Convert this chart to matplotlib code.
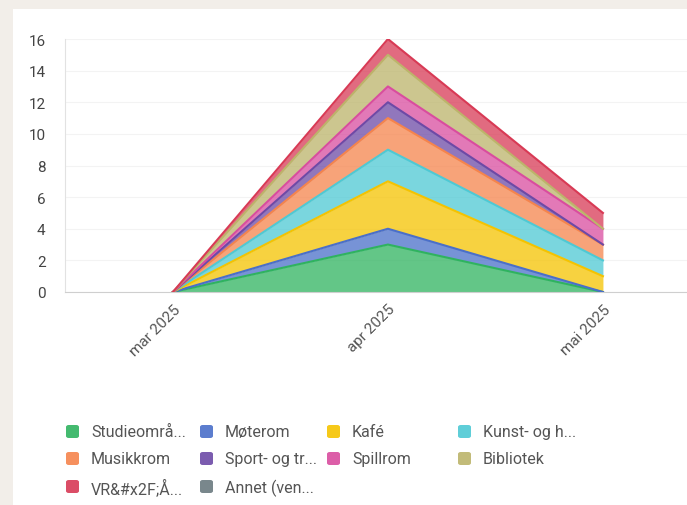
import numpy as np
import matplotlib.pyplot as plt
from matplotlib.patches import FancyBboxPatch, Rectangle

plt.rcParams['font.family'] = ['Roboto', 'DejaVu Sans']

months = ['mar 2025', 'apr 2025', 'mai 2025']
labels = ['Studieområ...', 'Møterom', 'Kafé', 'Kunst- og h...',
          'Musikkrom', 'Sport- og tr...', 'Spillrom', 'Bibliotek',
          'VR&#x2F;Å...', 'Annet (ven...']
colors = ['#2fb35f', '#4a6fc9', '#f5c300', '#4ec9d4',
          '#f5844c', '#6d4aa6', '#d94c9f', '#bcb46a',
          '#d83a55', '#6b7a80']
# antall per kategori og måned (mar, apr, mai)
studie = [0, 3, 0]
moterom = [0, 1, 0]
kafe = [0, 3, 1]
kunst = [0, 2, 1]
musikk = [0, 2, 1]
sport = [0, 1, 0]
spill = [0, 1, 1]
bibliotek = [0, 2, 0]
vr = [0, 1, 1]
annet = [0, 0, 0]
series = [studie, moterom, kafe, kunst, musikk, sport, spill, bibliotek, vr, annet]

fig = plt.figure(figsize=(6.87, 5.06), dpi=100)
fig.patch.set_facecolor('#f2eee9')
# hvitt kort bak alt
fig.patches.append(Rectangle((13 / 687, 0), 1, 1 - 10 / 506, transform=fig.transFigure,
                             facecolor='white', edgecolor='none', zorder=-5))

ax = fig.add_axes([65 / 687, 1 - 293 / 506, 1 - 65 / 687, 253 / 506])
ax.set_zorder(2)
ax.set_facecolor('none')

x = np.arange(len(months))
data = np.array(series, dtype=float)
tops = np.cumsum(data, axis=0)
bottoms = tops - data
for i in range(len(series)):
    if data[i].sum() == 0:
        continue
    ax.fill_between(x, bottoms[i], tops[i], color=colors[i], alpha=0.75, linewidth=0, zorder=2)
    ax.plot(x, tops[i], color=colors[i], linewidth=1.5, zorder=3)

ax.set_xlim(-0.502, 2.391)
ax.set_ylim(0, 16)
ax.set_yticks(range(0, 17, 2))
ax.set_xticks(x)
ax.set_xticklabels(months, rotation=45, ha='right', rotation_mode='anchor')
ax.tick_params(axis='both', length=0, labelsize=11, colors='#444444')
ax.tick_params(axis='x', pad=7, colors='#555555')
ax.tick_params(axis='y', pad=14)
ax.grid(axis='y', color='#f3f3f3', linewidth=0.8, zorder=0)
for s in ['top', 'right']:
    ax.spines[s].set_visible(False)
ax.spines['left'].set_color('#e2e2e2')
ax.spines['bottom'].set_color('#cfcfcf')

# forklaring
col_x = [66, 200, 327, 458]
row_y = [433, 460, 488]
for i, lab in enumerate(labels):
    cx = col_x[i % 4]
    cy = row_y[i // 4]
    fig.patches.append(FancyBboxPatch((cx / 687, 1 - (cy + 6) / 506), 13 / 687, 13 / 506,
                                      boxstyle='round,pad=0,rounding_size=0.004',
                                      transform=fig.transFigure, facecolor=colors[i],
                                      edgecolor='none', alpha=0.9, zorder=3))
    fig.text((cx + 25) / 687, 1 - cy / 506, lab, fontsize=11.5, color='#555555',
             va='center', ha='left', zorder=3)

plt.savefig('out.png', dpi=100, facecolor=fig.get_facecolor())
